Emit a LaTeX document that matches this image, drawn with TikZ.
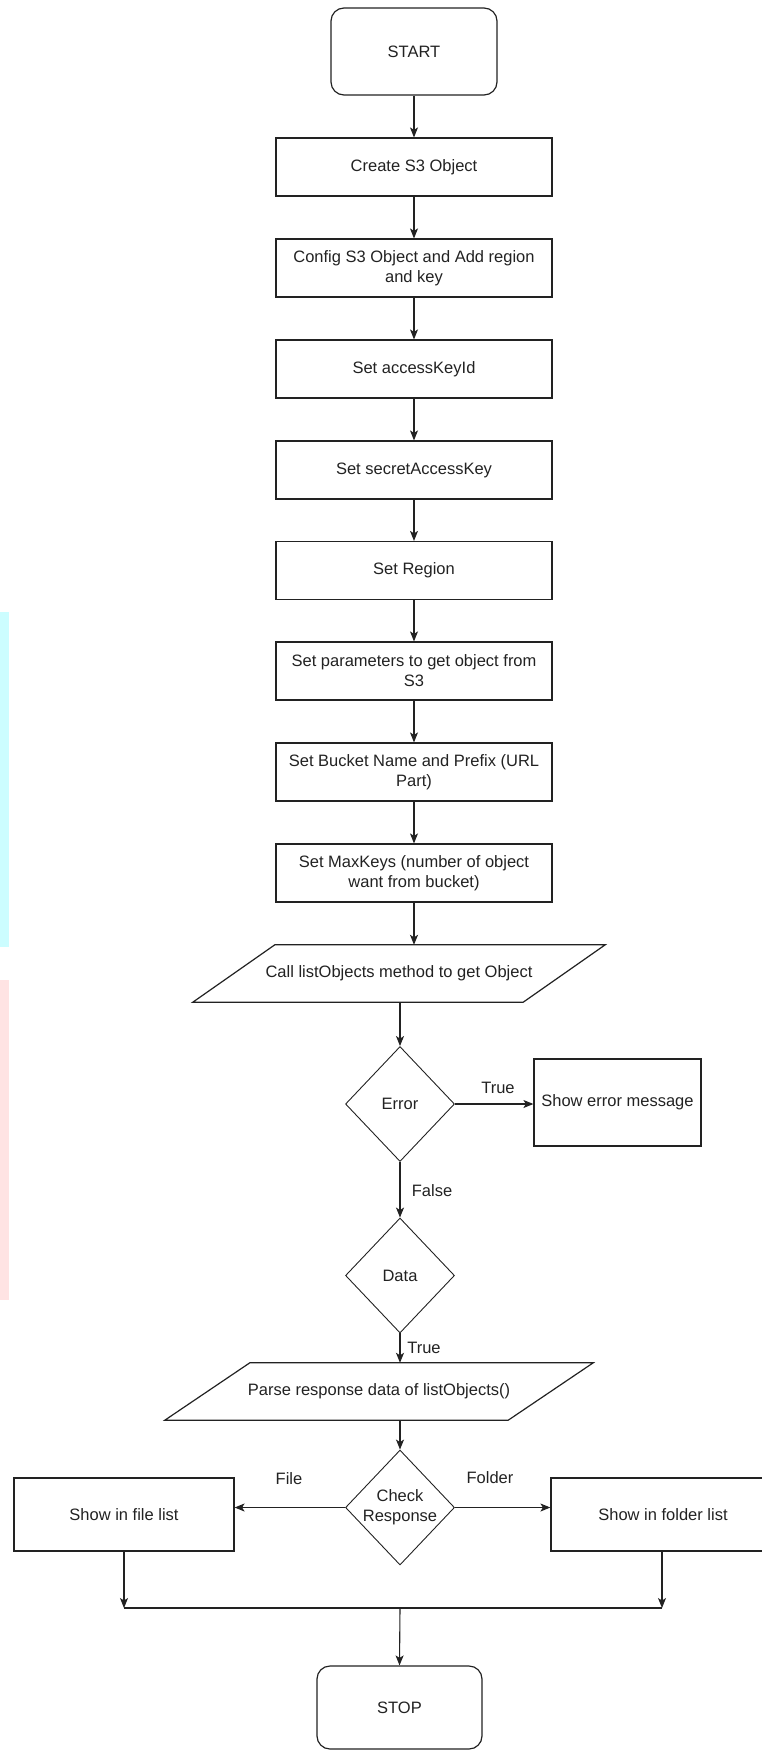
\documentclass[tikz,border=0pt]{standalone}
\usepackage{fontspec}
\setmainfont{Liberation Sans}
\usetikzlibrary{arrows.meta,shapes.geometric}
\definecolor{ink}{HTML}{222222}
\definecolor{bandcyan}{HTML}{CCFDFF}
\definecolor{bandpink}{HTML}{FFE3E3}
\begin{document}
\begin{tikzpicture}[x=1pt,y=-1pt,
  every node/.style={font=\fontsize{16.5pt}{20pt}\selectfont, text=ink},
  proc/.style={draw=ink, line width=1.2pt, rectangle, minimum width=276pt, minimum height=58pt, inner sep=0pt, align=center},
  term/.style={draw=ink, line width=1.2pt, rectangle, rounded corners=13pt, inner sep=0pt},
  dec/.style={draw=ink, line width=0.9pt, diamond, minimum width=109pt, minimum height=115pt, inner sep=0pt},
  io/.style={rectangle, inner sep=0pt},
  shapeline/.style={draw=ink, line width=1.2pt, line join=miter},
  lbl/.style={inner sep=1pt},
  arr/.style={draw=ink, line width=1.1pt, -{Stealth[length=10pt,width=8pt,inset=2.5pt]}},
  conn/.style={draw=ink, line width=1.1pt},
]
\useasboundingbox (0,0) rectangle (761,1750);
% side bands
\fill[bandcyan] (0,612) rectangle (9,947);
\fill[bandpink] (0,980) rectangle (9,1300);

% top column
\node[term, minimum width=166pt, minimum height=87pt] (start) at (414,51.5) {START};
\node[proc] (create) at (414,167) {Create S3 Object};
\node[proc] (config) at (414,268) {Config S3 Object and Add region\\and key};
\node[proc] (akid) at (414,369) {Set accessKeyId};
\node[proc] (sak) at (414,470) {Set secretAccessKey};
\node[proc] (region) at (414,570.5) {Set Region};
\node[proc] (params) at (414,671) {Set parameters to get object from\\S3};
\node[proc] (bucket) at (414,772) {Set Bucket Name and Prefix (URL\\Part)};
\node[proc] (maxk) at (414,873) {Set MaxKeys (number of object\\want from bucket)};

% call listObjects parallelogram
\node[io, minimum width=412pt, minimum height=57pt] (call) at (399,973.5) {Call listObjects method to get Object};
\draw[shapeline] (call.south west) -- ([xshift=82pt]call.north west) -- (call.north east) -- ([xshift=-82pt]call.south east) -- cycle;

% decisions
\node[dec] (err) at (400,1104) {Error};
\node[proc, minimum width=167pt, minimum height=87pt] (errmsg) at (617.5,1102.5) {Show error message};
\node[dec] (data) at (400,1275.5) {Data};

% parse parallelogram
\node[io, minimum width=428pt, minimum height=57pt] (parse) at (379,1391.5) {Parse response data of listObjects()};
\draw[shapeline] (parse.south west) -- ([xshift=85pt]parse.north west) -- (parse.north east) -- ([xshift=-85pt]parse.south east) -- cycle;

\node[dec] (check) at (400,1507.5) {\makebox[0pt]{\begin{tabular}{@{}c@{}}Check\\Response\end{tabular}}};
\node[proc, minimum width=220pt, minimum height=73pt] (filel) at (124,1514.5) {Show in file list};
\node[proc, minimum width=224pt, minimum height=73pt] (folderl) at (663,1514.5) {Show in folder list};

\node[term, minimum width=165pt, minimum height=83pt] (stop) at (399.5,1707.5) {STOP};

% labels
\node[lbl] (ltrue1) at (498,1088) {True};
\node[lbl] (lfalse) at (432,1191) {False};
\node[lbl] (ltrue2) at (424,1348) {True};
\node[lbl] (lfile) at (289,1479) {File};
\node[lbl] (lfolder) at (490,1478) {Folder};

% connectors
\draw[arr] (start) -- (create);
\draw[arr] (create) -- (config);
\draw[arr] (config) -- (akid);
\draw[arr] (akid) -- (sak);
\draw[arr] (sak) -- (region);
\draw[arr] (region) -- (params);
\draw[arr] (params) -- (bucket);
\draw[arr] (bucket) -- (maxk);
\draw[arr] (maxk.south) -- (maxk.south |- call.north);
\draw[arr] (err.north |- call.south) -- (err.north);
\draw[arr] (err.east) -- (err.east -| errmsg.west);
\draw[arr] (err.south) -- (data.north);
\draw[arr] (data.south) -- (data.south |- parse.north);
\draw[arr] (check.north |- parse.south) -- (check.north);
\draw[arr] (check.west) -- (check.west -| filel.east);
\draw[arr] (check.east) -- (check.east -| folderl.west);
\coordinate (join) at (400,1608);
\coordinate (joinL) at (filel.south |- join);
\coordinate (joinR) at (662,1608);
\draw[arr] (filel.south) -- (joinL);
\draw[arr] (folderl.south -| joinR) -- (joinR);
\draw[conn] (joinL) -- (joinR);
\draw[arr] (join) -- (stop.north);
\end{tikzpicture}
\end{document}
